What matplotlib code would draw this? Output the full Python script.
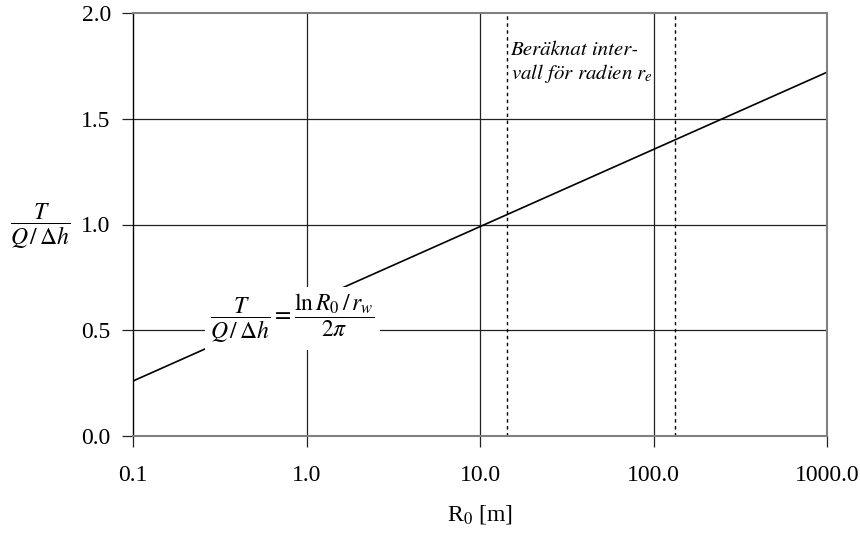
import matplotlib
matplotlib.use("Agg")
import matplotlib.pyplot as plt

# values
r0_ends = [0.1, 1000.0]          # R0 [m], line is straight on log axis
ratio_ends = [0.26, 1.72]        # T / (Q/dh)
interval_r0 = [14.4, 133.0]      # computed interval for radius r_e
x_ticks = [0.1, 1.0, 10.0, 100.0, 1000.0]
x_labels = ["0.1", "1.0", "10.0", "100.0", "1000.0"]
y_ticks = [0.0, 0.5, 1.0, 1.5, 2.0]
y_labels = ["0.0", "0.5", "1.0", "1.5", "2.0"]

plt.rcParams["font.family"] = ["Liberation Serif", "DejaVu Serif"]
plt.rcParams["mathtext.fontset"] = "stix"

fig = plt.figure(figsize=(8.6, 5.33), dpi=100)
ax = fig.add_axes([133 / 860, 1 - 436 / 533, (827 - 133) / 860, (436 - 13) / 533])

ax.set_xscale("log")
ax.set_xlim(0.1, 1000)
ax.set_ylim(0, 2)

# grid: decades and 0.5 steps
for xv in x_ticks[1:-1]:
    ax.axvline(xv, color="#222222", lw=0.9, zorder=1)
for yv in y_ticks[1:-1]:
    ax.axhline(yv, color="#222222", lw=0.9, zorder=1)

for xv in interval_r0:
    ax.axvline(xv, color="black", lw=1.0, ls=(0, (2.5, 2.5)), zorder=1)

ax.plot(r0_ends, ratio_ends, color="black", lw=1.2, zorder=2)

ax.text(0.83, 0.555,
        r"$\dfrac{T}{Q\,/\,\Delta h}=\dfrac{\ln R_0\,/\,r_w}{2\pi}$",
        ha="center", va="center", fontsize=17, zorder=3,
        bbox=dict(facecolor="white", edgecolor="none", pad=3.5))

# italic note, STIX has a proper italic face
ax.text(15.0, 1.87, "Beräknat inter-\nvall för radien $r_e$",
        ha="left", va="top", fontsize=15, style="italic",
        family=["STIXGeneral", "DejaVu Serif"],
        linespacing=1.2, zorder=3)

ax.set_xticks(x_ticks)
ax.set_xticklabels(x_labels)
ax.minorticks_off()
ax.set_yticks(y_ticks)
ax.set_yticklabels(y_labels)
ax.tick_params(axis="both", labelsize=17, length=8, width=0.9, color="#222222")
ax.tick_params(axis="x", pad=13)
ax.tick_params(axis="y", pad=8)

for side in ["top", "right", "bottom"]:
    ax.spines[side].set_color("#808080")
    ax.spines[side].set_linewidth(1.5)
ax.spines["left"].set_color("black")
ax.spines["left"].set_linewidth(1.0)

ax.set_xlabel(r"R$_0$ [m]", fontsize=17, labelpad=12)
fig.text(40 / 860, 1 - 226 / 533, r"$\dfrac{T}{Q\,/\,\Delta h}$",
         ha="center", va="center", fontsize=17)

fig.savefig("out.png", dpi=100)
